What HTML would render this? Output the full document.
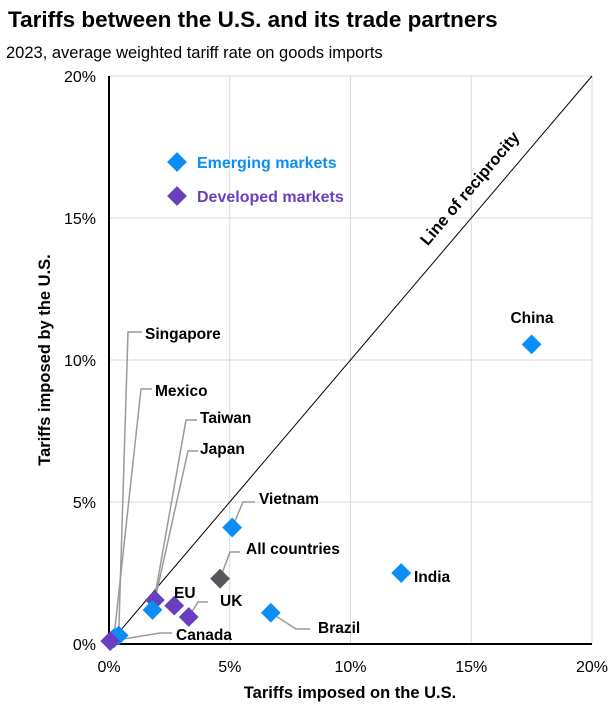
<!DOCTYPE html>
<html><head><meta charset="utf-8"><style>
body{margin:0;background:#fff;font-family:"Liberation Sans",sans-serif;}
</style></head><body>
<svg width="616" height="713" xmlns="http://www.w3.org/2000/svg" font-family="Liberation Sans, sans-serif">
<text x="8" y="27" font-size="22.5" font-weight="bold" fill="#000">Tariffs between the U.S. and its trade partners</text>
<text x="6" y="58" font-size="16.5" fill="#000">2023, average weighted tariff rate on goods imports</text>
<g id="grid"></g>
<g id="axes"></g>
<g id="leaders"></g>
<g id="marks"></g>
<g id="labels"></g>
<text transform="translate(50,360) rotate(-90)" text-anchor="middle" font-size="16.5" font-weight="bold">Tariffs imposed by the U.S.</text>
<text x="350" y="698" text-anchor="middle" font-size="16.5" font-weight="bold">Tariffs imposed on the U.S.</text>
<g>
<rect x="170" y="155" width="14" height="14" transform="rotate(45 177 162)" fill="#0a8ef5"/>
<text x="197" y="168" font-size="16" font-weight="bold" fill="#0a8ef5">Emerging markets</text>
<rect x="170" y="189" width="14" height="14" transform="rotate(45 177 196)" fill="#6a3fbf"/>
<text x="197" y="202" font-size="16" font-weight="bold" fill="#6a3fbf">Developed markets</text>
</g>
<text transform="translate(474,192) rotate(-49.6)" text-anchor="middle" font-size="16.5" font-weight="bold">Line of reciprocity</text>
</svg>
<script>
const names=["China","India","Brazil","Vietnam","All countries","UK","EU","Japan","Taiwan","Singapore","Mexico","Canada"];
const xVals=[17.5,12.1,6.7,5.1,4.6,3.3,2.7,1.9,1.8,0.4,0.2,0.05];
const yVals=[10.55,2.5,1.1,4.1,2.3,0.95,1.35,1.55,1.2,0.3,0.2,0.1];
const groups=["em","em","em","em","all","dev","dev","dev","em","em","em","dev"];
const ticks=[0,5,10,15,20];
const NS="http://www.w3.org/2000/svg";
const X=v=>109+v*24.15, Y=v=>644-v*28.4;
const col={em:"#0a8ef5",dev:"#6a3fbf",all:"#54585c"};
function mk(tag,attrs,parent){const e=document.createElementNS(NS,tag);for(const k in attrs)e.setAttribute(k,attrs[k]);parent.appendChild(e);return e;}
const grid=document.getElementById('grid'),axes=document.getElementById('axes');
ticks.forEach(t=>{
 if(t>0){const g1=mk('line',{x1:X(t),x2:X(t),y1:Y(0),y2:Y(20),stroke:"#d9d9d9"},grid);
 
 
 const g2=mk('line',{x1:X(0),x2:X(20),y1:Y(t),y2:Y(t),stroke:"#d9d9d9"},grid);
 
 }
 const tx=mk('text',{x:X(t),y:672,"text-anchor":"middle","font-size":16},axes);tx.textContent=t+"%";
 
 
 const ty=mk('text',{x:96,y:Y(t)+6,"text-anchor":"end","font-size":16},axes);ty.textContent=t+"%";
 
 
});
const ax=mk('line',{x1:X(0),x2:X(0),y1:Y(0),y2:Y(20),stroke:"#000","stroke-width":2},axes);


const ax2=mk('line',{x1:X(0),x2:X(20),y1:Y(0),y2:Y(0),stroke:"#000","stroke-width":2},axes);


const rl=mk('line',{x1:X(0),y1:Y(0),x2:X(20),y2:Y(20),stroke:"#000","stroke-width":1},axes);


const lab={China:[532,323,"middle",null],India:[414,582,"start",null],Brazil:[318,633,"start",[[296,629],[310,629]]],
Vietnam:[259,504,"start",[[243,502],[255,502]]],"All countries":[246,554,"start",[[230,552],[240,552]]],
UK:[220,606,"start",[[198,602],[208,602]]],EU:[174,598,"start",null],Japan:[200,454,"start",[[188,451],[198,451]]],
Taiwan:[200,423,"start",[[186,420],[197,420]]],Singapore:[145,339,"start",[[128,332],[142,332]]],
Mexico:[155,396,"start",[[141,389],[152,389]]],Canada:[176,640,"start",[[160,633],[172,633]]]};
const L=document.getElementById('leaders'),M=document.getElementById('marks'),T=document.getElementById('labels');
names.forEach((n,i)=>{
 const cx=X(xVals[i]),cy=Y(yVals[i]);const l=lab[n];
 if(l[3]){const p=mk('polyline',{points:cx+","+cy+" "+l[3].map(q=>q.join(",")).join(" "),fill:"none",stroke:"#9a9a9a","stroke-width":1.5},L);
 
 }
});
names.forEach((n,i)=>{
 const cx=X(xVals[i]),cy=Y(yVals[i]);
 const r=mk('rect',{x:cx-7,y:cy-7,width:14,height:14,transform:`rotate(45 ${cx} ${cy})`,fill:col[groups[i]]},M);
 
 
 const l=lab[n];
 const t=mk('text',{x:l[0],y:l[1],"text-anchor":l[2],"font-size":15.5,"font-weight":"bold"},T);t.textContent=n;
 
 
});
</script>
</body></html>
